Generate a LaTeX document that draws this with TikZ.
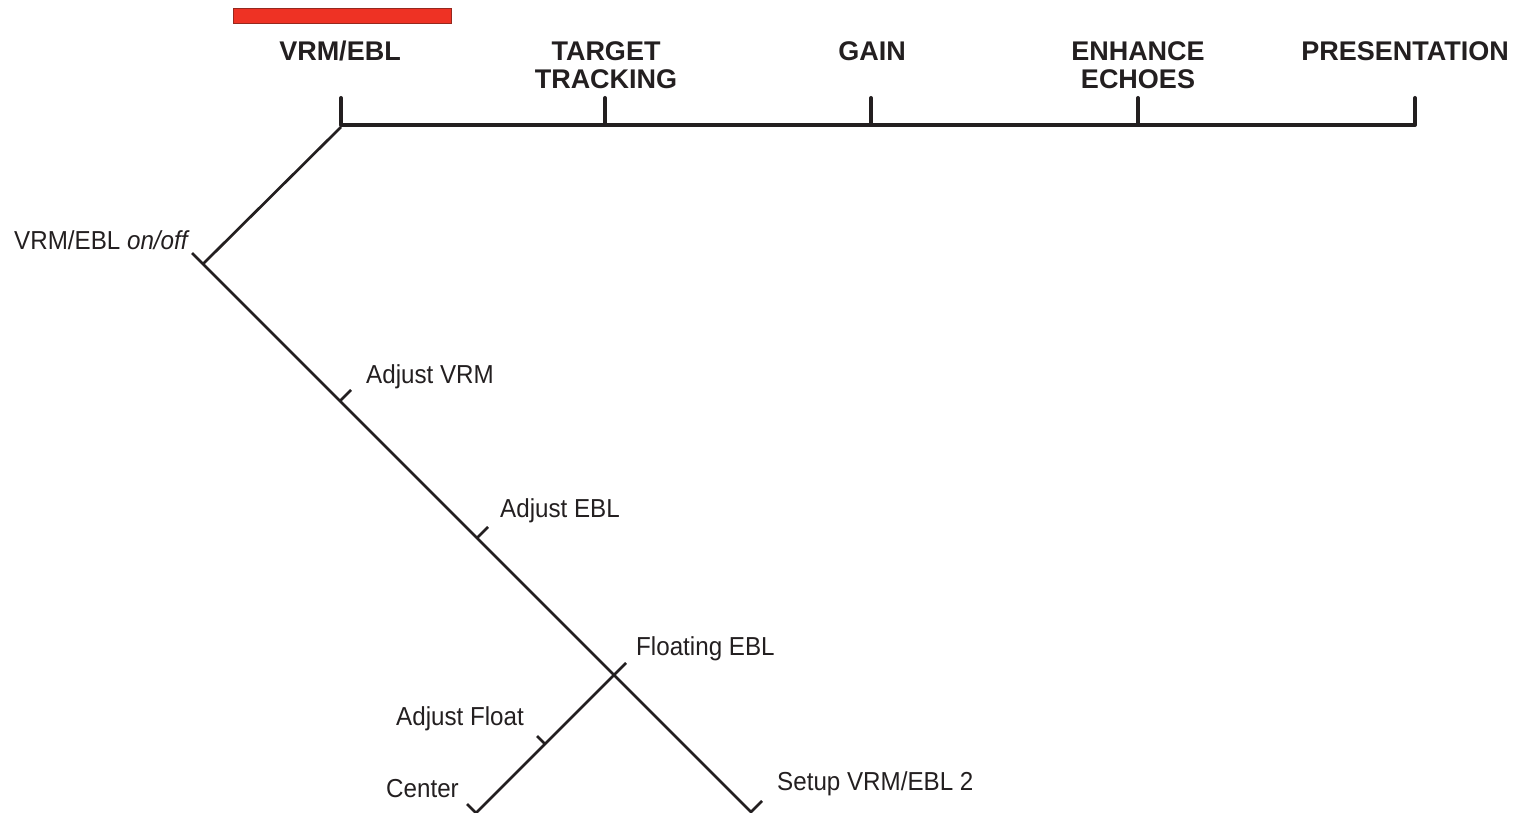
\documentclass[tikz,border=0pt]{standalone}
\usepackage{fontspec}
\setmainfont{Liberation Sans}
\newfontfamily\labfont[FakeStretch=0.93]{Liberation Sans}
\definecolor{ink}{RGB}{35,31,32}
\definecolor{barred}{RGB}{238,50,36}
\definecolor{bardark}{RGB}{150,40,30}
\begin{document}
\begin{tikzpicture}[x=1pt,y=-1pt,
  menu/.style={font=\fontsize{27}{28}\selectfont\bfseries, text=ink, inner sep=0pt, align=center},
  lab/.style={font=\labfont\fontsize{26}{28}\selectfont, text=ink, inner sep=0pt, anchor=base west},
  bar/.style={line width=4.5pt, draw=ink},
  tk/.style={line width=4pt, draw=ink, line cap=round},
  br/.style={line width=2.7pt, draw=ink},
]
\useasboundingbox (0,0) rectangle (1519,813);
% red bar
\filldraw[fill=barred, draw=bardark, line width=1pt] (233.5,8.5) rectangle (451.5,24);
% menu labels
\node[menu, anchor=base] (m1) at (340,61) {VRM/EBL};
\node[menu, anchor=base] (m2) at (606,89) {TARGET\\TRACKING};
\node[menu, anchor=base] (m3) at (872,61) {GAIN};
\node[menu, anchor=base] (m4) at (1138,89) {ENHANCE\\ECHOES};
\node[menu, anchor=base] (m5) at (1405,61) {PRESENTATION};
% top bar coordinates
\coordinate (b1) at (341,125); \coordinate (b1t) at (341,98);
\coordinate (b2) at (605,125); \coordinate (b2t) at (605,98);
\coordinate (b3) at (871,125); \coordinate (b3t) at (871,98);
\coordinate (b4) at (1138,125); \coordinate (b4t) at (1138,98);
\coordinate (b5) at (1415,125); \coordinate (b5t) at (1415,98);
\draw[bar] (b1) -- (b5);
\draw[tk] (b1t) -- (b1);
\draw[tk] (b2t) -- (b2);
\draw[tk] (b3t) -- (b3);
\draw[tk] (b4t) -- (b4);
\draw[tk] (b5t) -- (b5);
% tree coordinates
\coordinate (j0) at (341,127);
\coordinate (j1) at (203,264);
\coordinate (j1a) at (192,253);
\coordinate (j2) at (340,401); \coordinate (j2t) at (351,390);
\coordinate (j3) at (477,538); \coordinate (j3t) at (488,527);
\coordinate (j4) at (614,675);
\coordinate (j4t) at (626,663);
\coordinate (j5) at (751,812); \coordinate (j5t) at (762,801);
\coordinate (f1) at (545,744); \coordinate (f1t) at (537,736);
\coordinate (f2) at (476,813); \coordinate (f2t) at (467,804);
\draw[br] (j0) -- (j1);
\draw[br] (j1a) -- (j5) -- (j5t);
\draw[br] (j2) -- (j2t);
\draw[br] (j3) -- (j3t);
\draw[br] (j4t) -- (f2) -- (f2t);
\draw[br] (f1) -- (f1t);
% labels
\node[lab] (l1) at (14,250) {VRM/EBL \textit{on/off}};
\node[lab] (l2) at (366,383) {Adjust VRM};
\node[lab] (l3) at (500,517) {Adjust EBL};
\node[lab] (l4) at (636,655) {Floating EBL};
\node[lab] (l5) at (396,725) {Adjust Float};
\node[lab] (l6) at (386,797) {Center};
\node[lab] (l7) at (777,790) {Setup VRM/EBL 2};
\end{tikzpicture}
\end{document}
